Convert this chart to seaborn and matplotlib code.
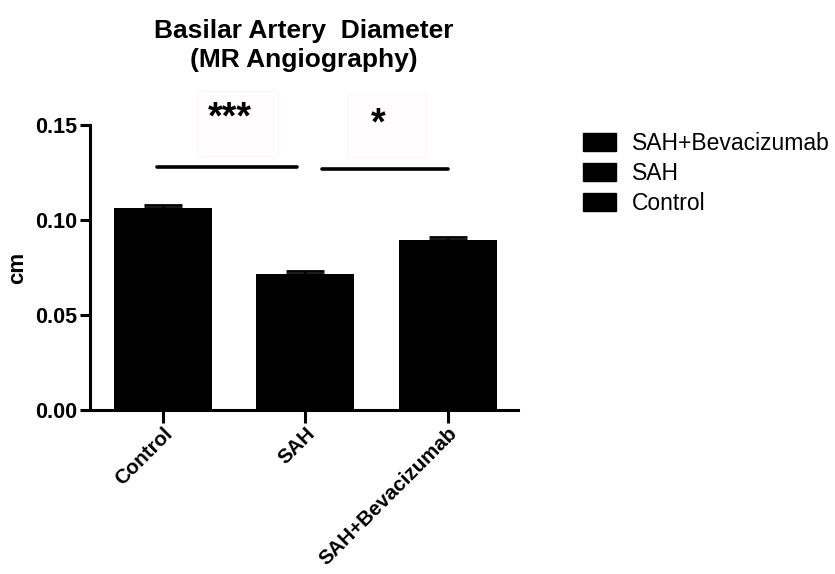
##Import Libraries
import matplotlib
matplotlib.use("Agg")
import matplotlib.pyplot as plt
from matplotlib.patches import Patch, Rectangle
import seaborn as sns
import pandas as pd

##Values
groups = ["Control", "SAH", "SAH+Bevacizumab"]
means = [0.1062, 0.0716, 0.0895]
sems = [0.0015, 0.0016, 0.0017]
legend_order = ["SAH+Bevacizumab", "SAH", "Control"]

##Significance brackets: (x start, x end, height, stars) and star positions
sig_pairs = [(-0.04, 0.94, 0.1277, "***"), (1.12, 2.0, 0.1268, "*")]
star_pos = [(0.47, 0.1535), (1.51, 0.1505)]
##faint boxes behind the stars (x0, x1, y0, y1)
star_boxes = [(0.24, 0.81, 0.134, 0.168), (1.29, 1.85, 0.133, 0.166)]

df = pd.DataFrame({"group": groups, "cm": means})

sns.set_style("ticks")
plt.rcParams['font.family'] = ['Liberation Sans', 'DejaVu Sans']
plt.rcParams.update({"text.color": "black", "axes.labelcolor": "black",
                     "axes.edgecolor": "black", "xtick.color": "black",
                     "ytick.color": "black"})

fig = plt.figure(figsize=(8.35, 5.74), dpi=100)
ax = fig.add_axes([0.1078, 0.2857, 0.620 - 0.1078, 0.782 - 0.2857])

sns.barplot(data=df, x="group", y="cm", color="black", saturation=1,
            width=0.69, linewidth=0, ax=ax)

##upward-only error bars like GraphPad
ax.errorbar(x=range(len(groups)), y=means, yerr=[[0] * len(sems), sems],
            fmt="none", ecolor="black", elinewidth=2, capsize=14, capthick=2)

##significance lines and stars
for (bx0, bx1, by0, by1) in star_boxes:
    ax.add_patch(Rectangle((bx0, by0), bx1 - bx0, by1 - by0, facecolor="#fffdfd",
                           edgecolor="#faf8f8", lw=0.8, clip_on=False, zorder=0))
for (x0, x1, h, s), (sx, sy) in zip(sig_pairs, star_pos):
    ax.plot([x0, x1], [h, h], color="black", lw=2.6, solid_capstyle="round", clip_on=False)
    ax.text(sx, sy, s, ha="center", va="center", fontsize=27, fontweight="bold", clip_on=False)

ax.set_xlim(-0.51, 2.49)
ax.set_ylim(0, 0.15)
ax.set_yticks([0.00, 0.05, 0.10, 0.15])
ax.set_yticklabels(["0.00", "0.05", "0.10", "0.15"])
ax.set_xlabel("")
ax.set_ylabel("cm", fontsize=16, fontweight="bold", labelpad=5)
ax.set_title("Basilar Artery  Diameter\n(MR Angiography)", fontsize=19,
             fontweight="bold", pad=42, linespacing=1.23)

sns.despine(ax=ax)
for side in ["left", "bottom"]:
    ax.spines[side].set_linewidth(2.2)
ax.tick_params(axis="y", length=7, width=2.2, labelsize=15.5, pad=2)
ax.tick_params(axis="x", length=9, width=2.2, labelsize=14.8, pad=1)
for lab in ax.get_yticklabels():
    lab.set_fontweight("bold")
for lab in ax.get_xticklabels():
    lab.set_fontweight("bold")
    lab.set_rotation(45)
    lab.set_ha("right")
    lab.set_rotation_mode("anchor")

##legend outside, reversed order, black squares
handles = [Patch(facecolor="black", edgecolor="black") for _ in legend_order]
fig.legend(handles, legend_order, loc="upper left", bbox_to_anchor=(583 / 835, 1 - 132 / 574),
           frameon=False, fontsize=16.5, handlelength=1.45, handleheight=0.85,
           handletextpad=0.7, labelspacing=0.3, borderpad=0, borderaxespad=0)

fig.savefig("out.png", dpi=100)
